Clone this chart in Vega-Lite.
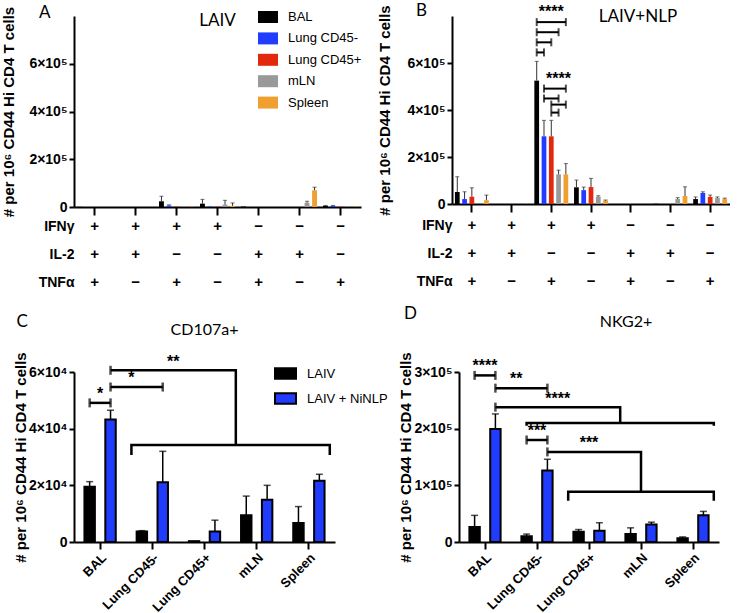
{
 "$schema": "https://vega.github.io/schema/vega-lite/v6.json",
 "padding": {"left": 1, "top": 2, "right": 0, "bottom": 0},
 "background": "white",
 "config": {
  "view": {"stroke": null},
  "font": "Liberation Sans",
  "axis": {"domainColor": "black", "domainWidth": 2, "tickColor": "black", "tickWidth": 2, "labelColor": "black", "labelFontWeight": "bold", "labelFontSize": 14, "titleColor": "black", "titleFontWeight": "bold", "titleFontSize": 15, "grid": false},
  "title": {"font": "Lato", "fontWeight": "normal", "fontSize": 17, "color": "black"},
  "legend": {"labelFontSize": 13, "labelColor": "black", "labelFont": "Liberation Sans"}
 },
 "datasets": {
  "A": [
   {"combo": "+++", "tissue": "BAL", "value": 700, "hi": null},
   {"combo": "+++", "tissue": "Lung CD45-", "value": 0, "hi": null},
   {"combo": "+++", "tissue": "Lung CD45+", "value": 0, "hi": null},
   {"combo": "+++", "tissue": "mLN", "value": 0, "hi": null},
   {"combo": "+++", "tissue": "Spleen", "value": 0, "hi": null},
   {"combo": "++−", "tissue": "BAL", "value": 0, "hi": null},
   {"combo": "++−", "tissue": "Lung CD45-", "value": 0, "hi": null},
   {"combo": "++−", "tissue": "Lung CD45+", "value": 0, "hi": null},
   {"combo": "++−", "tissue": "mLN", "value": 0, "hi": null},
   {"combo": "++−", "tissue": "Spleen", "value": 0, "hi": null},
   {"combo": "+−+", "tissue": "BAL", "value": 24000, "hi": 45000},
   {"combo": "+−+", "tissue": "Lung CD45-", "value": 6000, "hi": 9000},
   {"combo": "+−+", "tissue": "Lung CD45+", "value": 1500, "hi": null},
   {"combo": "+−+", "tissue": "mLN", "value": 1500, "hi": null},
   {"combo": "+−+", "tissue": "Spleen", "value": 1500, "hi": null},
   {"combo": "+−−", "tissue": "BAL", "value": 14000, "hi": 32000},
   {"combo": "+−−", "tissue": "Lung CD45-", "value": 2000, "hi": null},
   {"combo": "+−−", "tissue": "Lung CD45+", "value": 1500, "hi": null},
   {"combo": "+−−", "tissue": "mLN", "value": 10000, "hi": 28000},
   {"combo": "+−−", "tissue": "Spleen", "value": 5000, "hi": 17000},
   {"combo": "−++", "tissue": "BAL", "value": 2000, "hi": null},
   {"combo": "−++", "tissue": "Lung CD45-", "value": 0, "hi": null},
   {"combo": "−++", "tissue": "Lung CD45+", "value": 0, "hi": null},
   {"combo": "−++", "tissue": "mLN", "value": 0, "hi": null},
   {"combo": "−++", "tissue": "Spleen", "value": 0, "hi": null},
   {"combo": "−+−", "tissue": "BAL", "value": 0, "hi": null},
   {"combo": "−+−", "tissue": "Lung CD45-", "value": 0, "hi": null},
   {"combo": "−+−", "tissue": "Lung CD45+", "value": 0, "hi": null},
   {"combo": "−+−", "tissue": "mLN", "value": 18000, "hi": 24000},
   {"combo": "−+−", "tissue": "Spleen", "value": 70000, "hi": 83000},
   {"combo": "−−+", "tissue": "BAL", "value": 5000, "hi": 6500},
   {"combo": "−−+", "tissue": "Lung CD45-", "value": 5000, "hi": 6500},
   {"combo": "−−+", "tissue": "Lung CD45+", "value": 1500, "hi": null},
   {"combo": "−−+", "tissue": "mLN", "value": 1500, "hi": null},
   {"combo": "−−+", "tissue": "Spleen", "value": 1500, "hi": null}
  ],
  "B": [
   {"combo": "+++", "tissue": "BAL", "value": 51000, "hi": 116000},
   {"combo": "+++", "tissue": "Lung CD45-", "value": 21000, "hi": 52000},
   {"combo": "+++", "tissue": "Lung CD45+", "value": 31000, "hi": 69000},
   {"combo": "+++", "tissue": "mLN", "value": 0, "hi": null},
   {"combo": "+++", "tissue": "Spleen", "value": 16000, "hi": 38000},
   {"combo": "++−", "tissue": "BAL", "value": 0, "hi": null},
   {"combo": "++−", "tissue": "Lung CD45-", "value": 0, "hi": null},
   {"combo": "++−", "tissue": "Lung CD45+", "value": 0, "hi": null},
   {"combo": "++−", "tissue": "mLN", "value": 0, "hi": null},
   {"combo": "++−", "tissue": "Spleen", "value": 1000, "hi": null},
   {"combo": "+−+", "tissue": "BAL", "value": 525000, "hi": 607000},
   {"combo": "+−+", "tissue": "Lung CD45-", "value": 288000, "hi": 356000},
   {"combo": "+−+", "tissue": "Lung CD45+", "value": 288000, "hi": 356000},
   {"combo": "+−+", "tissue": "mLN", "value": 126000, "hi": 144000},
   {"combo": "+−+", "tissue": "Spleen", "value": 126000, "hi": 172000},
   {"combo": "+−−", "tissue": "BAL", "value": 71000, "hi": 102000},
   {"combo": "+−−", "tissue": "Lung CD45-", "value": 59000, "hi": 72000},
   {"combo": "+−−", "tissue": "Lung CD45+", "value": 72000, "hi": 109000},
   {"combo": "+−−", "tissue": "mLN", "value": 31000, "hi": 35000},
   {"combo": "+−−", "tissue": "Spleen", "value": 14000, "hi": 17000},
   {"combo": "−++", "tissue": "BAL", "value": 0, "hi": null},
   {"combo": "−++", "tissue": "Lung CD45-", "value": 0, "hi": null},
   {"combo": "−++", "tissue": "Lung CD45+", "value": 0, "hi": null},
   {"combo": "−++", "tissue": "mLN", "value": 0, "hi": null},
   {"combo": "−++", "tissue": "Spleen", "value": 0, "hi": null},
   {"combo": "−+−", "tissue": "BAL", "value": 1000, "hi": null},
   {"combo": "−+−", "tissue": "Lung CD45-", "value": 0, "hi": null},
   {"combo": "−+−", "tissue": "Lung CD45+", "value": 0, "hi": null},
   {"combo": "−+−", "tissue": "mLN", "value": 21000, "hi": 27000},
   {"combo": "−+−", "tissue": "Spleen", "value": 34000, "hi": 73000},
   {"combo": "−−+", "tissue": "BAL", "value": 21000, "hi": 30000},
   {"combo": "−−+", "tissue": "Lung CD45-", "value": 47000, "hi": 52000},
   {"combo": "−−+", "tissue": "Lung CD45+", "value": 30000, "hi": 38000},
   {"combo": "−−+", "tissue": "mLN", "value": 25000, "hi": 30000},
   {"combo": "−−+", "tissue": "Spleen", "value": 21000, "hi": 25000}
  ],
  "tbl": [
   {"combo": "+++", "cyt": "IFNγ", "sign": "+"}, {"combo": "+++", "cyt": "IL-2", "sign": "+"}, {"combo": "+++", "cyt": "TNFα", "sign": "+"},
   {"combo": "++−", "cyt": "IFNγ", "sign": "+"}, {"combo": "++−", "cyt": "IL-2", "sign": "+"}, {"combo": "++−", "cyt": "TNFα", "sign": "−"},
   {"combo": "+−+", "cyt": "IFNγ", "sign": "+"}, {"combo": "+−+", "cyt": "IL-2", "sign": "−"}, {"combo": "+−+", "cyt": "TNFα", "sign": "+"},
   {"combo": "+−−", "cyt": "IFNγ", "sign": "+"}, {"combo": "+−−", "cyt": "IL-2", "sign": "−"}, {"combo": "+−−", "cyt": "TNFα", "sign": "−"},
   {"combo": "−++", "cyt": "IFNγ", "sign": "−"}, {"combo": "−++", "cyt": "IL-2", "sign": "+"}, {"combo": "−++", "cyt": "TNFα", "sign": "+"},
   {"combo": "−+−", "cyt": "IFNγ", "sign": "−"}, {"combo": "−+−", "cyt": "IL-2", "sign": "+"}, {"combo": "−+−", "cyt": "TNFα", "sign": "−"},
   {"combo": "−−+", "cyt": "IFNγ", "sign": "−"}, {"combo": "−−+", "cyt": "IL-2", "sign": "−"}, {"combo": "−−+", "cyt": "TNFα", "sign": "+"}
  ],
  "Bbr": [
   {"id": "b1", "combo": "+−+", "tissue": "BAL", "value": 774000}, {"id": "b1", "combo": "+−+", "tissue": "Spleen", "value": 774000},
   {"id": "b2", "combo": "+−+", "tissue": "BAL", "value": 731000}, {"id": "b2", "combo": "+−+", "tissue": "mLN", "value": 731000},
   {"id": "b3", "combo": "+−+", "tissue": "BAL", "value": 688000}, {"id": "b3", "combo": "+−+", "tissue": "Lung CD45+", "value": 688000},
   {"id": "b4", "combo": "+−+", "tissue": "BAL", "value": 645000}, {"id": "b4", "combo": "+−+", "tissue": "Lung CD45-", "value": 645000},
   {"id": "b5", "combo": "+−+", "tissue": "Lung CD45-", "value": 491000}, {"id": "b5", "combo": "+−+", "tissue": "Spleen", "value": 491000},
   {"id": "b6", "combo": "+−+", "tissue": "Lung CD45-", "value": 449000}, {"id": "b6", "combo": "+−+", "tissue": "mLN", "value": 449000},
   {"id": "b7", "combo": "+−+", "tissue": "Lung CD45+", "value": 423000}, {"id": "b7", "combo": "+−+", "tissue": "Spleen", "value": 423000},
   {"id": "b8", "combo": "+−+", "tissue": "Lung CD45+", "value": 389000}, {"id": "b8", "combo": "+−+", "tissue": "mLN", "value": 389000}
  ],
  "Btx": [
   {"combo": "+−+", "tissue": "Lung CD45+", "value": 816000, "label": "****"},
   {"combo": "+−+", "tissue": "mLN", "value": 534000, "label": "****"}
  ],
  "C": [
   {"tissue": "BAL", "group": "LAIV", "value": 19500, "hi": 21300},
   {"tissue": "BAL", "group": "LAIV + NiNLP", "value": 43200, "hi": 46500},
   {"tissue": "Lung CD45-", "group": "LAIV", "value": 3700, "hi": 4000},
   {"tissue": "Lung CD45-", "group": "LAIV + NiNLP", "value": 21100, "hi": 32000},
   {"tissue": "Lung CD45+", "group": "LAIV", "value": 300, "hi": null},
   {"tissue": "Lung CD45+", "group": "LAIV + NiNLP", "value": 3700, "hi": 7700},
   {"tissue": "mLN", "group": "LAIV", "value": 9400, "hi": 16200},
   {"tissue": "mLN", "group": "LAIV + NiNLP", "value": 14900, "hi": 20000},
   {"tissue": "Spleen", "group": "LAIV", "value": 6700, "hi": 12500},
   {"tissue": "Spleen", "group": "LAIV + NiNLP", "value": 21600, "hi": 23900}
  ],
  "Cbr": [
   {"id": "c1", "seq": 1, "tissue": "BAL", "at": "LAIV", "value": 49100, "cap": true},
   {"id": "c1", "seq": 2, "tissue": "BAL", "at": "LAIV + NiNLP", "value": 49100, "cap": true},
   {"id": "c2", "seq": 1, "tissue": "BAL", "at": "LAIV + NiNLP", "value": 54700, "cap": true},
   {"id": "c2", "seq": 2, "tissue": "Lung CD45-", "at": "LAIV + NiNLP", "value": 54700, "cap": true},
   {"id": "c3", "seq": 1, "tissue": "BAL", "at": "LAIV + NiNLP", "value": 60600, "cap": true},
   {"id": "c3", "seq": 2, "tissue": "mLN", "at": "L", "value": 60600, "cap": false},
   {"id": "c3", "seq": 3, "tissue": "mLN", "at": "L", "value": 34200, "cap": false},
   {"id": "c4", "seq": 1, "tissue": "Lung CD45-", "at": "L", "value": 30700, "cap": false},
   {"id": "c4", "seq": 2, "tissue": "Lung CD45-", "at": "L", "value": 34200, "cap": false},
   {"id": "c4", "seq": 3, "tissue": "Spleen", "at": "R", "value": 34200, "cap": false},
   {"id": "c4", "seq": 4, "tissue": "Spleen", "at": "R", "value": 30700, "cap": false}
  ],
  "Ctx": [
   {"tissue": "BAL", "at": "mid", "value": 52400, "label": "*"},
   {"tissue": "Lung CD45-", "at": "L", "value": 58000, "label": "*"},
   {"tissue": "Lung CD45-", "at": "R", "value": 63700, "label": "**"}
  ],
  "D": [
   {"tissue": "BAL", "group": "LAIV", "value": 26500, "hi": 47000},
   {"tissue": "BAL", "group": "LAIV + NiNLP", "value": 199500, "hi": 226000},
   {"tissue": "Lung CD45-", "group": "LAIV", "value": 10000, "hi": 14000},
   {"tissue": "Lung CD45-", "group": "LAIV + NiNLP", "value": 126000, "hi": 146000},
   {"tissue": "Lung CD45+", "group": "LAIV", "value": 18000, "hi": 22000},
   {"tissue": "Lung CD45+", "group": "LAIV + NiNLP", "value": 20000, "hi": 34000},
   {"tissue": "mLN", "group": "LAIV", "value": 14000, "hi": 25000},
   {"tissue": "mLN", "group": "LAIV + NiNLP", "value": 31000, "hi": 35000},
   {"tissue": "Spleen", "group": "LAIV", "value": 6500, "hi": 9000},
   {"tissue": "Spleen", "group": "LAIV + NiNLP", "value": 47000, "hi": 54000}
  ],
  "Dbr": [
   {"id": "d1", "seq": 1, "tissue": "BAL", "at": "LAIV", "value": 294000, "cap": true},
   {"id": "d1", "seq": 2, "tissue": "BAL", "at": "LAIV + NiNLP", "value": 294000, "cap": true},
   {"id": "d2", "seq": 1, "tissue": "BAL", "at": "LAIV + NiNLP", "value": 271500, "cap": true},
   {"id": "d2", "seq": 2, "tissue": "Lung CD45-", "at": "LAIV + NiNLP", "value": 271500, "cap": true},
   {"id": "d3", "seq": 1, "tissue": "BAL", "at": "LAIV + NiNLP", "value": 238000, "cap": true},
   {"id": "d3", "seq": 2, "tissue": "mLN", "at": "L", "value": 238000, "cap": false},
   {"id": "d3", "seq": 3, "tissue": "mLN", "at": "L", "value": 210000, "cap": false},
   {"id": "d3b", "seq": 1, "tissue": "Lung CD45-", "at": "LAIV", "value": 205000, "cap": false},
   {"id": "d3b", "seq": 2, "tissue": "Lung CD45-", "at": "LAIV", "value": 210000, "cap": false},
   {"id": "d3b", "seq": 3, "tissue": "Spleen", "at": "R", "value": 210000, "cap": false},
   {"id": "d3b", "seq": 4, "tissue": "Spleen", "at": "R", "value": 205000, "cap": false},
   {"id": "d4", "seq": 1, "tissue": "Lung CD45-", "at": "LAIV", "value": 180000, "cap": true},
   {"id": "d4", "seq": 2, "tissue": "Lung CD45-", "at": "LAIV + NiNLP", "value": 180000, "cap": true},
   {"id": "d5", "seq": 1, "tissue": "Lung CD45-", "at": "LAIV + NiNLP", "value": 159000, "cap": true},
   {"id": "d5", "seq": 2, "tissue": "mLN", "at": "mid", "value": 159000, "cap": false},
   {"id": "d5", "seq": 3, "tissue": "mLN", "at": "mid", "value": 88500, "cap": false},
   {"id": "d5b", "seq": 1, "tissue": "Lung CD45+", "at": "L", "value": 73000, "cap": false},
   {"id": "d5b", "seq": 2, "tissue": "Lung CD45+", "at": "L", "value": 88500, "cap": false},
   {"id": "d5b", "seq": 3, "tissue": "Spleen", "at": "R", "value": 88500, "cap": false},
   {"id": "d5b", "seq": 4, "tissue": "Spleen", "at": "R", "value": 73000, "cap": false}
  ],
  "Dtx": [
   {"tissue": "BAL", "at": "mid", "value": 310000, "label": "****"},
   {"tissue": "Lung CD45-", "at": "L", "value": 287000, "label": "**"},
   {"tissue": "Lung CD45-", "at": "R", "value": 253000, "label": "****"},
   {"tissue": "Lung CD45-", "at": "mid", "value": 196000, "label": "***"},
   {"tissue": "Lung CD45+", "at": "mid", "value": 174000, "label": "***"}
  ]
 },
 "resolve": {"scale": {"color": "independent", "xOffset": "independent"}, "legend": {"color": "independent"}},
 "spacing": 3,
 "vconcat": [
  {
   "resolve": {"scale": {"color": "independent", "xOffset": "independent"}, "legend": {"color": "independent"}},
   "spacing": 15,
   "hconcat": [
    {
     "title": {"text": "A", "anchor": "start", "frame": "bounds", "dx": 37, "offset": -16},
     "resolve": {"scale": {"color": "independent", "xOffset": "independent"}, "legend": {"color": "independent"}},
     "spacing": 0,
     "vconcat": [
      {
       "width": 287, "height": 191,
       "title": {"text": "LAIV", "frame": "group", "anchor": "middle", "offset": -24},
       "data": {"name": "A"},
       "encoding": {
        "x": {"field": "combo", "type": "nominal", "scale": {"domain": ["+++", "++−", "+−+", "+−−", "−++", "−+−", "−−+"], "paddingInner": 0, "paddingOuter": 0}, "axis": {"labels": false, "title": null, "tickSize": 8}},
        "xOffset": {"field": "tissue", "type": "nominal", "scale": {"domain": ["BAL", "Lung CD45-", "Lung CD45+", "mLN", "Spleen"], "paddingInner": 0.35, "paddingOuter": 0.4}}
       },
       "layer": [
        {"mark": {"type": "bar"}, "encoding": {
          "y": {"field": "value", "type": "quantitative", "scale": {"domain": [0, 800000]}, "axis": {"values": [0, 200000, 400000, 600000], "labelExpr": "datum.value == 0 ? '0' : datum.value/100000 + '×10⁵'", "title": "# per 10⁶ CD44 Hi CD4 T cells", "titlePadding": 12, "tickSize": 5}},
          "color": {"field": "tissue", "type": "nominal", "scale": {"domain": ["BAL", "Lung CD45-", "Lung CD45+", "mLN", "Spleen"], "range": ["#000000", "#1f3cff", "#e3290c", "#999999", "#f0a030"]},
           "legend": {"orient": "none", "legendX": 184, "legendY": -9, "title": null, "symbolType": "M-1,-0.6H1V0.6H-1Z", "symbolSize": 400, "symbolStrokeWidth": 0, "symbolOpacity": 1, "labelOffset": 10, "rowPadding": 4.4, "labelFontSize": 13}}
        }},
        {"transform": [{"filter": "datum.hi != null"}], "mark": {"type": "rule", "color": "#333333", "strokeWidth": 1}, "encoding": {"y": {"field": "value", "type": "quantitative"}, "y2": {"field": "hi"}}},
        {"transform": [{"filter": "datum.hi != null"}], "mark": {"type": "tick", "orient": "horizontal", "size": 4, "thickness": 1, "color": "#333333"}, "encoding": {"y": {"field": "hi", "type": "quantitative"}}}
       ]
      },
      {
       "width": 287, "height": 84,
       "data": {"name": "tbl"},
       "mark": {"type": "text", "fontSize": 15, "fontWeight": "bold", "dy": -5},
       "encoding": {
        "x": {"field": "combo", "type": "nominal", "scale": {"domain": ["+++", "++−", "+−+", "+−−", "−++", "−+−", "−−+"], "paddingInner": 0, "paddingOuter": 0}, "axis": null},
        "y": {"field": "cyt", "type": "nominal", "scale": {"domain": ["IFNγ", "IL-2", "TNFα"], "paddingInner": 0, "paddingOuter": 0}, "axis": {"title": null, "domain": false, "ticks": false, "tickSize": 0, "labelPadding": 0, "labelOffset": -5, "labelFontSize": 14}},
        "text": {"field": "sign"}
       }
      }
     ]
    },
    {
     "title": {"text": "B", "anchor": "start", "frame": "bounds", "dx": 38, "offset": -16},
     "resolve": {"scale": {"color": "independent", "xOffset": "independent"}, "legend": {"color": "independent"}},
     "spacing": 0,
     "vconcat": [
      {
       "width": 278, "height": 188,
       "title": {"text": "LAIV+NLP", "frame": "group", "anchor": "middle", "offset": -22, "dx": 47},
       "encoding": {
        "x": {"field": "combo", "type": "nominal", "scale": {"domain": ["+++", "++−", "+−+", "+−−", "−++", "−+−", "−−+"], "paddingInner": 0, "paddingOuter": 0}, "axis": {"labels": false, "title": null, "tickSize": 8}},
        "xOffset": {"field": "tissue", "type": "nominal", "scale": {"domain": ["BAL", "Lung CD45-", "Lung CD45+", "mLN", "Spleen"], "paddingInner": 0.35, "paddingOuter": 0.4}}
       },
       "layer": [
        {"data": {"name": "B"}, "mark": {"type": "bar"}, "encoding": {
          "y": {"field": "value", "type": "quantitative", "scale": {"domain": [0, 800000]}, "axis": {"values": [0, 200000, 400000, 600000], "labelExpr": "datum.value == 0 ? '0' : datum.value/100000 + '×10⁵'", "title": "# per 10⁶ CD44 Hi CD4 T cells", "titlePadding": 14, "tickSize": 5}},
          "color": {"field": "tissue", "type": "nominal", "scale": {"domain": ["BAL", "Lung CD45-", "Lung CD45+", "mLN", "Spleen"], "range": ["#000000", "#1f3cff", "#e3290c", "#999999", "#f0a030"]}, "legend": null}
        }},
        {"data": {"name": "B"}, "transform": [{"filter": "datum.hi != null"}], "mark": {"type": "rule", "color": "#333333", "strokeWidth": 1}, "encoding": {"y": {"field": "value", "type": "quantitative"}, "y2": {"field": "hi"}}},
        {"data": {"name": "B"}, "transform": [{"filter": "datum.hi != null"}], "mark": {"type": "tick", "orient": "horizontal", "size": 4, "thickness": 1, "color": "#333333"}, "encoding": {"y": {"field": "hi", "type": "quantitative"}}},
        {"data": {"name": "Bbr"}, "mark": {"type": "line", "color": "black", "strokeWidth": 2}, "encoding": {"y": {"field": "value", "type": "quantitative"}, "detail": {"field": "id"}}},
        {"data": {"name": "Bbr"}, "mark": {"type": "tick", "orient": "vertical", "size": 8, "thickness": 2, "color": "black"}, "encoding": {"y": {"field": "value", "type": "quantitative"}}},
        {"data": {"name": "Btx"}, "mark": {"type": "text", "fontSize": 16, "fontWeight": "bold", "baseline": "middle", "color": "black"}, "encoding": {"y": {"field": "value", "type": "quantitative"}, "text": {"field": "label"}}}
       ]
      },
      {
       "width": 278, "height": 84,
       "data": {"name": "tbl"},
       "mark": {"type": "text", "fontSize": 15, "fontWeight": "bold", "dy": -5},
       "encoding": {
        "x": {"field": "combo", "type": "nominal", "scale": {"domain": ["+++", "++−", "+−+", "+−−", "−++", "−+−", "−−+"], "paddingInner": 0, "paddingOuter": 0}, "axis": null},
        "y": {"field": "cyt", "type": "nominal", "scale": {"domain": ["IFNγ", "IL-2", "TNFα"], "paddingInner": 0, "paddingOuter": 0}, "axis": {"title": null, "domain": false, "ticks": false, "tickSize": 0, "labelPadding": 0, "labelOffset": -5, "labelFontSize": 14}},
        "text": {"field": "sign"}
       }
      }
     ]
    }
   ]
  },
  {
   "resolve": {"scale": {"color": "independent", "xOffset": "independent"}, "legend": {"color": "independent"}},
   "spacing": 10,
   "hconcat": [
    {
     "title": {"text": "C", "anchor": "start", "frame": "bounds", "offset": -9, "dx": 3},
     "resolve": {"scale": {"color": "independent", "xOffset": "independent"}, "legend": {"color": "independent"}},
     "vconcat": [
      {
       "width": 261, "height": 170,
       "title": {"text": "CD107a+", "frame": "group", "anchor": "middle", "offset": 14, "fontSize": 16},
       "encoding": {
        "x": {"field": "tissue", "type": "nominal", "scale": {"domain": ["BAL", "Lung CD45-", "Lung CD45+", "mLN", "Spleen"], "paddingInner": 0, "paddingOuter": 0}, "axis": {"title": null, "labelAngle": -45, "tickSize": 7, "labelFontSize": 13}}
       },
       "layer": [
        {"data": {"name": "C"}, "mark": {"type": "bar", "stroke": "black", "strokeWidth": 2}, "encoding": {
          "xOffset": {"field": "group", "type": "nominal", "scale": {"domain": ["L", "LAIV", "mid", "LAIV + NiNLP", "R"], "paddingInner": 0, "paddingOuter": 0}},
          "y": {"field": "value", "type": "quantitative", "scale": {"domain": [0, 60000]}, "axis": {"values": [0, 20000, 40000, 60000], "labelExpr": "datum.value == 0 ? '0' : datum.value/10000 + '×10⁴'", "title": "# per 10⁶ CD44 Hi CD4 T cells", "titlePadding": 0, "tickSize": 5}},
          "color": {"field": "group", "type": "nominal", "scale": {"domain": ["LAIV", "LAIV + NiNLP"], "range": ["#000000", "#1f3cff"]},
           "legend": {"orient": "none", "legendX": 200, "legendY": -10, "title": null, "symbolType": "M-1,-0.5H1V0.5H-1Z", "symbolSize": 441, "symbolStrokeColor": "black", "symbolStrokeWidth": 2, "symbolOpacity": 1, "labelOffset": 10, "rowPadding": 4, "labelFontSize": 13}}
        }},
        {"data": {"name": "C"}, "transform": [{"filter": "datum.hi != null"}], "mark": {"type": "rule", "color": "black", "strokeWidth": 1.5}, "encoding": {"xOffset": {"field": "group", "type": "nominal"}, "y": {"field": "value", "type": "quantitative"}, "y2": {"field": "hi"}}},
        {"data": {"name": "C"}, "transform": [{"filter": "datum.hi != null"}], "mark": {"type": "tick", "orient": "horizontal", "size": 7, "thickness": 1.5, "color": "black"}, "encoding": {"xOffset": {"field": "group", "type": "nominal"}, "y": {"field": "hi", "type": "quantitative"}}},
        {"data": {"name": "Cbr"}, "mark": {"type": "line", "color": "black", "strokeWidth": 2.5}, "encoding": {"xOffset": {"field": "at", "type": "nominal"}, "y": {"field": "value", "type": "quantitative"}, "detail": {"field": "id"}, "order": {"field": "seq"}}},
        {"data": {"name": "Cbr"}, "transform": [{"filter": "datum.cap"}], "mark": {"type": "tick", "orient": "vertical", "size": 9, "thickness": 2.5, "color": "black"}, "encoding": {"xOffset": {"field": "at", "type": "nominal"}, "y": {"field": "value", "type": "quantitative"}}},
        {"data": {"name": "Ctx"}, "mark": {"type": "text", "fontSize": 16, "fontWeight": "bold", "baseline": "middle", "color": "black"}, "encoding": {"xOffset": {"field": "at", "type": "nominal"}, "y": {"field": "value", "type": "quantitative"}, "text": {"field": "label"}}}
       ]
      }
     ]
    },
    {
     "title": {"text": "D", "anchor": "start", "frame": "bounds", "offset": -9, "dx": 5},
     "resolve": {"scale": {"color": "independent", "xOffset": "independent"}, "legend": {"color": "independent"}},
     "vconcat": [
      {
       "width": 260, "height": 170,
       "title": {"text": "NKG2+", "frame": "group", "anchor": "middle", "offset": 22, "fontSize": 16, "dx": 37},
       "encoding": {
        "x": {"field": "tissue", "type": "nominal", "scale": {"domain": ["BAL", "Lung CD45-", "Lung CD45+", "mLN", "Spleen"], "paddingInner": 0, "paddingOuter": 0}, "axis": {"title": null, "labelAngle": -45, "tickSize": 7, "labelFontSize": 13}}
       },
       "layer": [
        {"data": {"name": "D"}, "mark": {"type": "bar", "stroke": "black", "strokeWidth": 2}, "encoding": {
          "xOffset": {"field": "group", "type": "nominal", "scale": {"domain": ["L", "LAIV", "mid", "LAIV + NiNLP", "R"], "paddingInner": 0, "paddingOuter": 0}},
          "y": {"field": "value", "type": "quantitative", "scale": {"domain": [0, 300000]}, "axis": {"values": [0, 100000, 200000, 300000], "labelExpr": "datum.value == 0 ? '0' : datum.value/100000 + '×10⁵'", "title": "# per 10⁶ CD44 Hi CD4 T cells", "titlePadding": 0, "tickSize": 5}},
          "color": {"field": "group", "type": "nominal", "scale": {"domain": ["LAIV", "LAIV + NiNLP"], "range": ["#000000", "#1f3cff"]}, "legend": null}
        }},
        {"data": {"name": "D"}, "transform": [{"filter": "datum.hi != null"}], "mark": {"type": "rule", "color": "black", "strokeWidth": 1.5}, "encoding": {"xOffset": {"field": "group", "type": "nominal"}, "y": {"field": "value", "type": "quantitative"}, "y2": {"field": "hi"}}},
        {"data": {"name": "D"}, "transform": [{"filter": "datum.hi != null"}], "mark": {"type": "tick", "orient": "horizontal", "size": 7, "thickness": 1.5, "color": "black"}, "encoding": {"xOffset": {"field": "group", "type": "nominal"}, "y": {"field": "hi", "type": "quantitative"}}},
        {"data": {"name": "Dbr"}, "mark": {"type": "line", "color": "black", "strokeWidth": 2.5}, "encoding": {"xOffset": {"field": "at", "type": "nominal"}, "y": {"field": "value", "type": "quantitative"}, "detail": {"field": "id"}, "order": {"field": "seq"}}},
        {"data": {"name": "Dbr"}, "transform": [{"filter": "datum.cap"}], "mark": {"type": "tick", "orient": "vertical", "size": 9, "thickness": 2.5, "color": "black"}, "encoding": {"xOffset": {"field": "at", "type": "nominal"}, "y": {"field": "value", "type": "quantitative"}}},
        {"data": {"name": "Dtx"}, "mark": {"type": "text", "fontSize": 16, "fontWeight": "bold", "baseline": "middle", "color": "black"}, "encoding": {"xOffset": {"field": "at", "type": "nominal"}, "y": {"field": "value", "type": "quantitative"}, "text": {"field": "label"}}}
       ]
      }
     ]
    }
   ]
  }
 ]
}
